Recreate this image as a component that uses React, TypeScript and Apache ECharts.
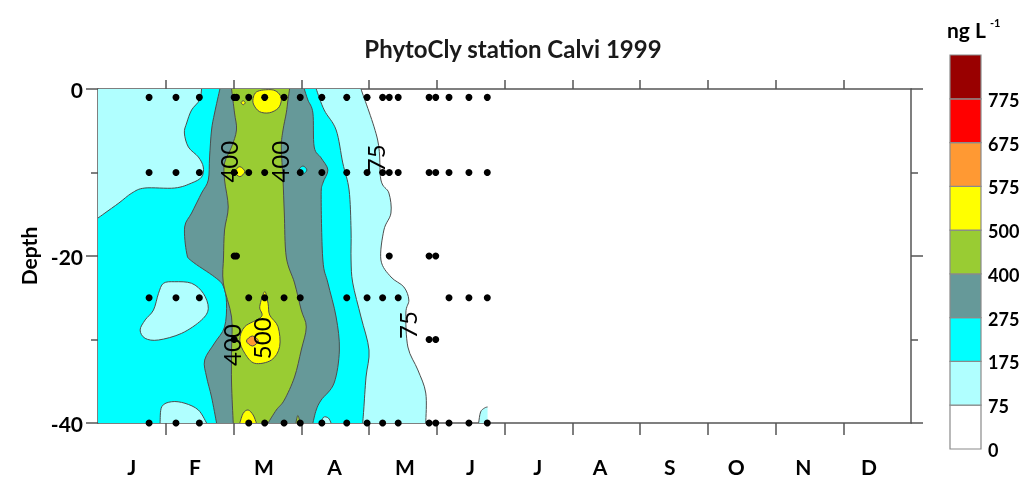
import React, { useEffect, useRef } from "react";
import * as echarts from "echarts";

// ---------- axis / legend data ----------
const MONTHS = ["J", "F", "M", "A", "M", "J", "J", "A", "S", "O", "N", "D"];
const MONTH_LABEL_POS = [0.5, 1.43, 2.45, 3.49, 4.53, 5.5, 6.49, 7.41, 8.44, 9.42, 10.41, 11.38];
const MONTH_TICKS = [1, 2, 3, 4, 5, 6, 7, 8, 9, 10, 11];
const LEVELS = [0, 75, 175, 275, 400, 500, 575, 675, 775];
const LEVEL_COLORS = ["#FFFFFF", "#B0FFFF", "#00FFFF", "#669999", "#99CC33", "#FFFF00", "#FF9933", "#FF0000", "#990000"];
const DATA_END = 5.75; // last sampling date (month units)

// ---------- sampling points (month, depth) ----------
const ROW_SURFACE = [0.754, 1.151, 1.496, 2.01, 2.044, 2.225, 2.46, 2.746, 2.985, 3.304, 3.672, 3.971, 4.201, 4.299, 4.431, 4.887, 4.985, 5.181, 5.475, 5.746];
const ROW_10 = [0.754, 1.151, 1.496, 2.01, 2.225, 2.46, 2.985, 3.304, 3.672, 3.971, 4.201, 4.299, 4.431, 4.887, 4.985, 5.181, 5.475, 5.746];
const ROW_20 = [2.01, 2.044, 4.299, 4.887, 4.985];
const ROW_25 = [0.754, 1.151, 1.496, 2.225, 2.46, 2.746, 2.985, 3.672, 3.971, 4.201, 4.431, 5.181, 5.475, 5.746];
const ROW_30 = [2.01, 4.887, 4.985];
const ROW_40 = [0.754, 1.151, 1.496, 2.225, 2.46, 2.746, 2.985, 3.304, 3.672, 3.971, 4.201, 4.431, 4.887, 4.985, 5.181, 5.475, 5.746];
const SAMPLE_ROWS: [number, number[]][] = [[-1, ROW_SURFACE], [-10, ROW_10], [-20, ROW_20], [-25, ROW_25], [-30, ROW_30], [-40, ROW_40]];

// ---------- contour regions (month, depth) ----------
const C75_MAIN = [[0, 0], [3.882, 0], [4.128, -6.11], [4.176, -10.9], [4.294, -12.46], [4.324, -14.85], [4.22, -16.89], [4.176, -20.48], [4.324, -22.51], [4.515, -23.71], [4.588, -25.27], [4.544, -26.83], [4.574, -30.9], [4.721, -33.65], [4.838, -36.41], [4.838, -40], [0, -40]];
const C75_END = [[5.618, -40], [5.647, -38.68], [5.706, -38.2], [5.75, -38.08], [5.75, -40]];
const C175_MAIN = [[0, -15.45], [0.103, -14.85], [0.309, -13.65], [0.5, -12.46], [0.691, -11.86], [1.132, -11.86], [1.382, -11.26], [1.529, -10.54], [1.554, -9.34], [1.481, -8.14], [1.334, -6.95], [1.275, -5.27], [1.309, -4.07], [1.382, -2.51], [1.5, -1.32], [1.529, 0], [3.221, 0], [3.338, -2.51], [3.515, -4.91], [3.613, -8.86], [3.706, -12.1], [3.735, -16.89], [3.735, -20.48], [3.76, -23.23], [3.882, -27.31], [4.0, -31.26], [3.956, -34.49], [3.922, -38.44], [3.907, -40], [0, -40]];
const C75_HOLE_MID = [[1.132, -23.08], [1.382, -23.27], [1.554, -24.47], [1.628, -26.26], [1.529, -27.66], [1.235, -29.26], [0.893, -30.06], [0.696, -29.86], [0.622, -28.86], [0.696, -27.66], [0.819, -26.47], [0.893, -24.47], [0.966, -23.27]];
const C75_HOLE_BOTTOM = [[0.916, -40], [0.941, -38.05], [1.088, -37.45], [1.284, -37.64], [1.481, -38.44], [1.603, -40]];
const C75_HOLE_SMALL = [[3.29, -40], [3.33, -39.3], [3.4, -39.4], [3.44, -40]];
const C275_MAIN = [[1.799, 0], [1.721, -2.87], [1.676, -4.91], [1.647, -8.14], [1.628, -10.9], [1.529, -12.46], [1.382, -14.85], [1.279, -16.53], [1.309, -19.64], [1.382, -20.6], [1.721, -22.51], [1.849, -23.6], [1.897, -25.6], [1.868, -28.5], [1.721, -30.42], [1.574, -32.46], [1.603, -34.49], [1.676, -36.89], [1.75, -40], [3.172, -40], [3.221, -38.44], [3.294, -37.25], [3.485, -35.21], [3.563, -31.26], [3.515, -27.31], [3.393, -23.23], [3.319, -20.48], [3.294, -12.93], [3.319, -11.26], [3.393, -9.7], [3.294, -8.26], [3.191, -6.95], [3.172, -2.87], [3.098, -1.32], [3.044, 0]];
const C175_HOLE = [[2.966, -9.7], [3.025, -9.22], [3.084, -9.7], [3.025, -10.18]];
const C400_MAIN = [[1.971, 0], [2.015, -2.87], [2.044, -4.91], [1.971, -6.95], [1.868, -8.86], [1.868, -10.9], [1.922, -14.13], [1.868, -16.89], [1.853, -20.12], [1.849, -23.23], [1.971, -27.31], [1.971, -31.26], [1.971, -35.21], [1.996, -40], [2.51, -40], [2.632, -38.44], [2.75, -37.25], [2.901, -34.49], [3.0, -31.26], [3.074, -28.5], [3.0, -26.47], [2.901, -23.23], [2.779, -20.12], [2.75, -14.85], [2.731, -10.9], [2.706, -6.95], [2.731, -4.91], [2.779, -2.87], [2.804, -1.32], [2.828, 0]];
const C400_SMALL = [[2.92, -40], [2.95, -39.1], [2.985, -40]];
const C500_TOP = [[2.338, -0.36], [2.441, -0.12], [2.588, -0.12], [2.676, -0.6], [2.706, -1.32], [2.662, -2.28], [2.529, -2.85], [2.382, -2.7], [2.294, -1.8], [2.294, -0.96]];
const C500_DOT = [[2.113, -1.64], [2.143, -1.4], [2.173, -1.64], [2.143, -1.88]];
const C500_TEN = [[2.019, -9.9], [2.093, -9.3], [2.167, -9.9], [2.093, -10.5]];
const C500_MID = [[2.46, -24.27], [2.51, -25.66], [2.534, -27.07], [2.657, -28.47], [2.681, -30.86], [2.559, -32.46], [2.313, -32.85], [2.166, -31.65], [2.093, -30.06], [2.166, -28.47], [2.412, -27.27], [2.387, -26.07]];
const C500_BOTTOM = [[2.093, -40], [2.143, -38.84], [2.216, -38.44], [2.29, -39.04], [2.338, -40]];
const C575_BLOB = [[2.191, -30.18], [2.279, -29.58], [2.367, -30.18], [2.279, -30.78]];

const REGIONS: { level: number; pts: number[][] }[] = [
  { level: 1, pts: C75_MAIN },
  { level: 1, pts: C75_END },
  { level: 2, pts: C175_MAIN },
  { level: 1, pts: C75_HOLE_MID },
  { level: 1, pts: C75_HOLE_BOTTOM },
  { level: 1, pts: C75_HOLE_SMALL },
  { level: 3, pts: C275_MAIN },
  { level: 2, pts: C175_HOLE },
  { level: 4, pts: C400_MAIN },
  { level: 4, pts: C400_SMALL },
  { level: 5, pts: C500_TOP },
  { level: 5, pts: C500_DOT },
  { level: 5, pts: C500_TEN },
  { level: 5, pts: C500_MID },
  { level: 5, pts: C500_BOTTOM },
  { level: 6, pts: C575_BLOB },
];

// contour labels: month, depth, text
const CONTOUR_LABELS: [number, number, string][] = [
  [1.922, -8.71, "400"],
  [2.681, -8.71, "400"],
  [4.103, -8.3, "75"],
  [4.569, -28.26, "75"],
  [1.971, -30.66, "400"],
  [2.412, -29.86, "500"],
];

const FONT = "Lato, 'Open Sans', sans-serif";

function onEdge(a: number[], b: number[]) {
  const e = 1e-9;
  const same = (u: number, v: number, t: number) => Math.abs(u - t) < e && Math.abs(v - t) < e;
  return same(a[1], b[1], 0) || same(a[1], b[1], -40) || same(a[0], b[0], 0) || same(a[0], b[0], DATA_END);
}

function buildPaths(data: number[][], px: number[][]) {
  const n = px.length;
  const straight = (i: number) => onEdge(data[(i + n) % n], data[(i + 1) % n]);
  const f = (p: number[]) => `${p[0].toFixed(2)} ${p[1].toFixed(2)}`;
  let fill = `M${f(px[0])}`;
  let stroke = "";
  let pen = false;
  for (let i = 0; i < n; i++) {
    const j = (i + 1) % n;
    if (straight(i)) {
      fill += `L${f(px[j])}`;
      pen = false;
      continue;
    }
    const prev = straight(i - 1) ? px[i] : px[(i - 1 + n) % n];
    const next = straight(j) ? px[j] : px[(j + 1) % n];
    const c1 = [px[i][0] + (px[j][0] - prev[0]) / 6, px[i][1] + (px[j][1] - prev[1]) / 6];
    const c2 = [px[j][0] - (next[0] - px[i][0]) / 6, px[j][1] - (next[1] - px[i][1]) / 6];
    const seg = `C${f(c1)} ${f(c2)} ${f(px[j])}`;
    fill += seg;
    if (!pen) {
      stroke += `M${f(px[i])}`;
      pen = true;
    }
    stroke += seg;
  }
  fill += "Z";
  return { fill, stroke };
}

export default function App() {
  const ref = useRef<HTMLDivElement>(null);
  useEffect(() => {
    if (!ref.current) return;
    const chart = echarts.init(ref.current, undefined, { renderer: "svg" });

    const samples: number[][] = [];
    SAMPLE_ROWS.forEach(([d, xs]) => xs.forEach((x) => samples.push([x, d])));

    // colour bar
    const barTop = 55, barBottom = 449, barX = 950, barW = 31;
    const h = (barBottom - barTop) / LEVELS.length;
    const barEls: any[] = [];
    LEVELS.forEach((lv, i) => {
      barEls.push({
        type: "rect",
        shape: { x: barX, y: barBottom - (i + 1) * h, width: barW, height: h },
        style: { fill: LEVEL_COLORS[i], stroke: "#8a8a8a", lineWidth: 1.2 },
      });
      barEls.push({
        type: "text",
        x: 988,
        y: barBottom - i * h + 1,
        style: { text: String(lv), font: `bold 18px ${FONT}`, fill: "#000", align: "left", verticalAlign: "middle" },
      });
    });

    const axisLine = { show: true, onZero: false, lineStyle: { color: "#555", width: 1.5 } };

    chart.setOption({
      animation: false,
      grid: { left: 98, top: 89, width: 813, height: 334, outerBoundsMode: "none", containLabel: false },
      xAxis: [
        {
          type: "value", position: "bottom", min: 0, max: 12, interval: 1,
          axisLine,
          axisTick: { show: true, inside: false, length: 12, customValues: MONTH_TICKS, lineStyle: { color: "#555", width: 1.5 } },
          axisLabel: {
            show: true, customValues: MONTH_LABEL_POS, margin: 34, lineHeight: 18,
            formatter: (v: number) => MONTHS[Math.floor(v)] ?? "",
            fontSize: 21, fontWeight: "bold", color: "#000", fontFamily: FONT,
          },
          splitLine: { show: false },
        },
        {
          type: "value", position: "top", min: 0, max: 12, interval: 1,
          axisLine,
          axisTick: { show: true, inside: false, length: 9, customValues: MONTH_TICKS, lineStyle: { color: "#555", width: 1.5 } },
          axisLabel: { show: false },
          splitLine: { show: false },
        },
      ],
      yAxis: [
        {
          type: "value", position: "left", min: -40, max: 0, interval: 20,
          axisLine,
          axisTick: { show: true, inside: false, length: 12, lineStyle: { color: "#555", width: 1.5 } },
          minorTick: { show: true, splitNumber: 2, length: 7, lineStyle: { color: "#555", width: 1.5 } },
          axisLabel: { show: true, margin: 15, fontSize: 21, fontWeight: "bold", color: "#000", fontFamily: FONT },
          splitLine: { show: false },
          minorSplitLine: { show: false },
        },
        {
          type: "value", position: "right", min: -40, max: 0, interval: 20,
          axisLine,
          axisTick: { show: true, inside: false, length: 12, lineStyle: { color: "#555", width: 1.5 } },
          minorTick: { show: true, splitNumber: 2, length: 7, lineStyle: { color: "#555", width: 1.5 } },
          axisLabel: { show: false },
          splitLine: { show: false },
          minorSplitLine: { show: false },
        },
      ],
      series: [
        {
          type: "custom",
          coordinateSystem: "cartesian2d",
          xAxisIndex: 0,
          yAxisIndex: 0,
          clip: true,
          silent: true,
          z: 1,
          data: REGIONS.map((r, i) => [r.pts[0][0], r.pts[0][1], i]),
          renderItem: (params: any, api: any) => {
            const r = REGIONS[params.dataIndex];
            const px = r.pts.map((p) => api.coord(p));
            const { fill, stroke } = buildPaths(r.pts, px);
            const children: any[] = [
              { type: "path", shape: { pathData: fill }, style: { fill: LEVEL_COLORS[r.level], stroke: null, lineWidth: 0 } },
            ];
            if (stroke) {
              children.push({ type: "path", shape: { pathData: stroke }, style: { fill: null, stroke: "#4d4d4d", lineWidth: 1 } });
            }
            return { type: "group", children };
          },
        },
        {
          type: "custom",
          coordinateSystem: "cartesian2d",
          clip: false,
          silent: true,
          z: 3,
          data: CONTOUR_LABELS.map((l) => [l[0], l[1]]),
          renderItem: (params: any, api: any) => {
            const l = CONTOUR_LABELS[params.dataIndex];
            const p = api.coord([l[0], l[1]]);
            return {
              type: "text",
              x: p[0],
              y: p[1],
              rotation: Math.PI / 2,
              style: { text: l[2], font: `24px ${FONT}`, fill: "#000", align: "center", verticalAlign: "middle" },
            };
          },
        },
        {
          type: "scatter",
          clip: false,
          silent: true,
          z: 4,
          symbol: "circle",
          symbolSize: 7,
          itemStyle: { color: "#000", opacity: 1 },
          data: samples,
        },
      ],
      graphic: [
        {
          type: "text", x: 513, y: 48,
          style: { text: "PhytoCly station Calvi 1999", font: `bold 24px ${FONT}`, fill: "#1a1a1a", align: "center", verticalAlign: "middle" },
        },
        {
          type: "text", x: 28, y: 256, rotation: Math.PI / 2,
          style: { text: "Depth", font: `bold 21px ${FONT}`, fill: "#000", align: "center", verticalAlign: "middle" },
        },
        {
          type: "text", x: 947, y: 29,
          style: { text: "ng L", font: `bold 21px ${FONT}`, fill: "#000", align: "left", verticalAlign: "middle" },
        },
        {
          type: "text", x: 990, y: 22,
          style: { text: "-1", font: `bold 11px ${FONT}`, fill: "#000", align: "left", verticalAlign: "middle" },
        },
        ...barEls,
      ],
    });
    return () => chart.dispose();
  }, []);
  return <div ref={ref} style={{ position: "fixed", left: 0, top: 0, width: 1030, height: 478 }} />;
}
